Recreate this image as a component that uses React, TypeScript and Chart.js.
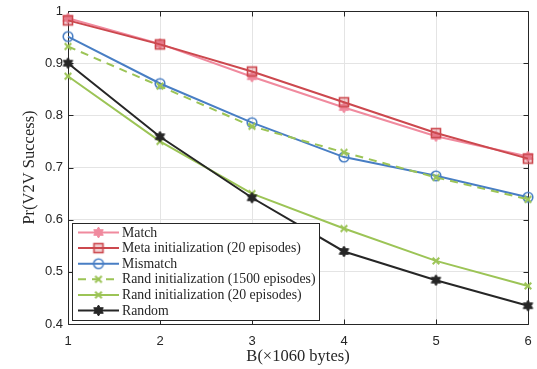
import React, { useEffect, useRef } from "react";
import { Chart, registerables } from "chart.js";

Chart.register(...registerables);

// ---------- data ----------
const xValues = [1, 2, 3, 4, 5, 6];
const matchValues = [0.986, 0.937, 0.874, 0.815, 0.76, 0.721];
const metaValues = [0.982, 0.936, 0.884, 0.825, 0.766, 0.717];
const mismatchValues = [0.951, 0.861, 0.786, 0.72, 0.684, 0.643];
const rand1500Values = [0.932, 0.856, 0.779, 0.729, 0.681, 0.639];
const rand20Values = [0.875, 0.75, 0.65, 0.583, 0.521, 0.473];
const randomValues = [0.9, 0.759, 0.642, 0.539, 0.484, 0.435];
const yTickValues = [0.4, 0.5, 0.6, 0.7, 0.8, 0.9, 1];
const xTickValues = [1, 2, 3, 4, 5, 6];
const seriesLabels = [
  "Match",
  "Meta initialization (20 episodes)",
  "Mismatch",
  "Rand initialization (1500 episodes)",
  "Rand initialization (20 episodes)",
  "Random",
];
const xTitle = "B(\u00d71060 bytes)";
const yTitle = "Pr(V2V Success)";

// ---------- styling ----------
const C_MATCH = "rgb(240,138,158)";
const C_META = "rgb(204,72,78)";
const C_BLUE = "rgb(72,126,196)";
const C_GREEN = "rgb(156,196,86)";
const C_BLACK = "rgb(38,38,38)";
const AXIS = "rgb(38,38,38)";
const GRID = "rgb(228,228,228)";
const SANS = "'Liberation Sans', Arial, sans-serif";
const SERIF = "'Liberation Serif', 'Times New Roman', serif";

function mk(size: number, draw: (ctx: CanvasRenderingContext2D, c: number) => void) {
  const cv = document.createElement("canvas");
  cv.width = size;
  cv.height = size;
  const ctx = cv.getContext("2d")!;
  draw(ctx, size / 2);
  return cv;
}

function hexagram(color: string, R: number) {
  return mk(Math.ceil(R * 2 + 4), (ctx, c) => {
    const r = R / Math.sqrt(3);
    ctx.beginPath();
    for (let i = 0; i < 12; i++) {
      const a = -Math.PI / 2 + (i * Math.PI) / 6;
      const rr = i % 2 === 0 ? R : r;
      const x = c + rr * Math.cos(a);
      const y = c + rr * Math.sin(a);
      if (i === 0) ctx.moveTo(x, y);
      else ctx.lineTo(x, y);
    }
    ctx.closePath();
    ctx.fillStyle = color;
    ctx.fill();
    ctx.strokeStyle = color;
    ctx.lineWidth = 1;
    ctx.stroke();
  });
}

function squareMarker(color: string) {
  return mk(14, (ctx, c) => {
    ctx.fillStyle = "rgba(204,72,78,0.25)";
    ctx.fillRect(c - 4.5, c - 4.5, 9, 9);
    ctx.strokeStyle = color;
    ctx.lineWidth = 1.6;
    ctx.strokeRect(c - 4.5, c - 4.5, 9, 9);
  });
}

function circleMarker(color: string) {
  return mk(14, (ctx, c) => {
    ctx.beginPath();
    ctx.arc(c, c, 4.8, 0, Math.PI * 2);
    ctx.strokeStyle = color;
    ctx.lineWidth = 1.6;
    ctx.stroke();
  });
}

function xMarker(color: string) {
  return mk(12, (ctx, c) => {
    const d = 3.3;
    ctx.beginPath();
    ctx.moveTo(c - d, c - d);
    ctx.lineTo(c + d, c + d);
    ctx.moveTo(c + d, c - d);
    ctx.lineTo(c - d, c + d);
    ctx.strokeStyle = color;
    ctx.lineWidth = 2;
    ctx.stroke();
  });
}

export default function App() {
  const ref = useRef<HTMLCanvasElement | null>(null);

  useEffect(() => {
    document.body.style.margin = "0";
    const canvas = ref.current!;
    const markers = [
      hexagram(C_MATCH, 5.5),
      squareMarker(C_META),
      circleMarker(C_BLUE),
      xMarker(C_GREEN),
      xMarker(C_GREEN),
      hexagram(C_BLACK, 5.5),
    ];
    const colors = [C_MATCH, C_META, C_BLUE, C_GREEN, C_GREEN, C_BLACK];
    const values = [matchValues, metaValues, mismatchValues, rand1500Values, rand20Values, randomValues];
    const dashes: number[][] = [[], [], [], [8, 6], [], []];

    const datasets = values.map((vals, i) => ({
      label: seriesLabels[i],
      data: xValues.map((x, j) => ({ x, y: vals[j] })),
      borderColor: colors[i],
      backgroundColor: colors[i],
      borderWidth: 2,
      borderDash: dashes[i],
      pointStyle: markers[i] as any,
      pointRadius: 5,
      pointHoverRadius: 5,
      tension: 0,
      clip: false as any,
      order: 5 - i,
    }));

    const framePlugin = {
      id: "frame",
      beforeDatasetsDraw(chart: any) {
        const { ctx, chartArea: a, scales } = chart;
        ctx.save();
        ctx.strokeStyle = AXIS;
        ctx.lineWidth = 1;
        ctx.beginPath();
        const L = Math.round(a.left) + 0.5;
        const R = Math.round(a.right) + 0.5;
        const T = Math.round(a.top) + 0.5;
        const B = Math.round(a.bottom) + 0.5;
        ctx.rect(L, T, R - L, B - T);
        const tl = 5;
        for (const v of xTickValues) {
          const px = Math.round(scales.x.getPixelForValue(v)) + 0.5;
          ctx.moveTo(px, B);
          ctx.lineTo(px, B - tl);
          ctx.moveTo(px, T);
          ctx.lineTo(px, T + tl);
        }
        for (const v of yTickValues) {
          const py = Math.round(scales.y.getPixelForValue(v)) + 0.5;
          ctx.moveTo(L, py);
          ctx.lineTo(L + tl, py);
          ctx.moveTo(R, py);
          ctx.lineTo(R - tl, py);
        }
        ctx.stroke();
        ctx.restore();
      },
    };

    const legendPlugin = {
      id: "customLegend",
      afterDraw(chart: any) {
        const { ctx } = chart;
        const bx = 72.5, by = 223.5, bw = 247, bh = 97;
        ctx.save();
        ctx.fillStyle = "#ffffff";
        ctx.fillRect(bx, by, bw, bh);
        ctx.strokeStyle = AXIS;
        ctx.lineWidth = 1;
        ctx.strokeRect(bx, by, bw, bh);
        const rowH = 15.6;
        seriesLabels.forEach((lab, i) => {
          const y = by + 9 + i * rowH;
          ctx.strokeStyle = colors[i];
          ctx.lineWidth = 2;
          ctx.setLineDash(dashes[i]);
          ctx.beginPath();
          ctx.moveTo(78, y);
          ctx.lineTo(119, y);
          ctx.stroke();
          ctx.setLineDash([]);
          const m = markers[i];
          ctx.drawImage(m, 98.5 - m.width / 2, y - m.height / 2);
          ctx.fillStyle = AXIS;
          ctx.font = `13.8px ${SERIF}`;
          ctx.textAlign = "left";
          ctx.textBaseline = "middle";
          ctx.fillText(lab, 122, y + 0.5);
        });
        ctx.restore();
      },
    };

    const chart = new Chart(canvas, {
      type: "line",
      data: { datasets },
      options: {
        animation: false,
        responsive: false,
        devicePixelRatio: 1,
        layout: { padding: { top: 11, right: 9, left: 0, bottom: 0 } },
        plugins: { legend: { display: false }, tooltip: { enabled: false } },
        events: [],
        scales: {
          x: {
            type: "linear",
            min: 1,
            max: 6,
            afterBuildTicks: (s: any) => {
              s.ticks = xTickValues.map((v) => ({ value: v }));
            },
            afterFit: (s: any) => {
              s.height = 45;
              s.paddingLeft = 0;
              s.paddingRight = 0;
            },
            ticks: {
              color: AXIS,
              font: { family: SANS, size: 13 },
              padding: 10,
              maxRotation: 0,
              callback: (v: any) => String(v),
            },
            grid: { color: GRID, drawTicks: false, lineWidth: 1 },
            border: { display: false },
            title: {
              display: true,
              text: xTitle,
              color: AXIS,
              font: { family: SERIF, size: 16.5 },
              padding: { top: 0, bottom: 2 },
            },
          },
          y: {
            type: "linear",
            min: 0.4,
            max: 1,
            afterBuildTicks: (s: any) => {
              s.ticks = yTickValues.map((v) => ({ value: v }));
            },
            afterFit: (s: any) => {
              s.width = 68;
              s.paddingTop = 0;
              s.paddingBottom = 0;
            },
            ticks: {
              color: AXIS,
              font: { family: SANS, size: 13 },
              padding: 5,
              callback: (v: any) => String(Number(Number(v).toFixed(1))),
            },
            grid: { color: GRID, drawTicks: false, lineWidth: 1 },
            border: { display: false },
            title: {
              display: true,
              text: yTitle,
              color: AXIS,
              font: { family: SERIF, size: 16.5 },
              padding: { top: 20, bottom: 0 },
            },
          },
        },
      },
      plugins: [framePlugin, legendPlugin],
    });
    return () => chart.destroy();
  }, []);

  return (
    <div style={{ position: "fixed", left: 0, top: 0, width: 537, height: 369, background: "#fff" }}>
      <canvas ref={ref} width={537} height={369} style={{ display: "block" }} />
    </div>
  );
}
